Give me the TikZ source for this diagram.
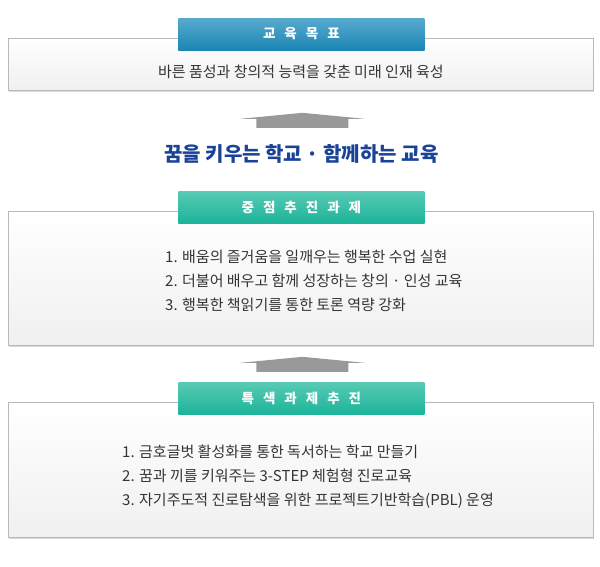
\documentclass[tikz,border=0pt]{standalone}
\usepackage{fontspec}
\setmainfont{Noto Sans CJK KR}
\usetikzlibrary{calc}
\usetikzlibrary{shadows}

\definecolor{goalblue}{RGB}{27,134,180}
\definecolor{goalbluelt}{RGB}{88,170,206}
\definecolor{taskgreen}{RGB}{27,180,154}
\definecolor{taskgreenlt}{RGB}{90,202,180}
\definecolor{liftgray}{RGB}{153,153,153}
\definecolor{panelline}{RGB}{185,185,185}
\definecolor{bodytext}{RGB}{52,52,52}
\definecolor{sloganblue}{RGB}{26,66,150}

\begin{document}
\begin{tikzpicture}[x=1pt, y=-1pt,
  panel/.style={rectangle,
                draw=panelline,
                line width=0.8pt,
                top color=white,
                bottom color=black!6,
                minimum width=585pt,
                anchor=north west,
                drop shadow={shadow xshift=1pt, shadow yshift=-1.5pt, opacity=.3}
  },
  banner/.style={rectangle,
                 minimum width=246pt,
                 minimum height=32pt,
                 text=white,
                 font={\fontsize{13.5pt}{15pt}\selectfont\bfseries\spaceskip=9pt\relax},
                 drop shadow={shadow xshift=0.8pt, shadow yshift=-1pt, opacity=.25}
  },
  bluebanner/.style={banner, top color=goalbluelt, bottom color=goalblue},
  greenbanner/.style={banner, top color=taskgreenlt, bottom color=taskgreen},
  listtext/.style={align=left,
                   anchor=west,
                   inner sep=0pt,
                   text=bodytext,
                   font={\fontsize{15pt}{24pt}\selectfont}
  },
  lift/.style={fill=liftgray}
]
\useasboundingbox (0,0) rectangle (600,566);

\node [panel, minimum height=52pt] (goal) at (8,38) {};
\node [bluebanner] (goalhead) at ($(goal.north)+(0.5,-4)$) {교 육 목 표};
\node [text=bodytext, font={\fontsize{15pt}{18pt}\selectfont}] (goaltext)
   at ($(goal.south)+(0,-19)$) {바른 품성과 창의적 능력을 갖춘 미래 인재 육성};

\coordinate (rise1) at ($(goal.south)+(1.5,37)$);
\node [text=sloganblue, font={\fontsize{20pt}{24pt}\selectfont\bfseries}] (slogan)
   at ($(goal.south)+(0.5,63)$) {꿈을 키우는 학교 ·  함께하는 교육};

\node [panel, minimum height=134pt] (focus) at (8,211) {};
\node [greenbanner] (focushead) at ($(focus.north)+(0.5,-4)$) {중 점 추 진 과 제};
\node [listtext] (focuslist) at (165,281) {
   1. 배움의 즐거움을 일깨우는 행복한 수업 실현\\
   2. 더불어 배우고 함께 성장하는 창의 · 인성 교육\\
   3. 행복한 책읽기를 통한 토론 역량 강화
};

\coordinate (rise2) at ($(focus.south)+(1.5,26)$);

\node [panel, minimum height=135pt] (special) at (8,402) {};
\node [greenbanner] (specialhead) at ($(special.north)+(0.5,-4)$) {특 색 과 제 추 진};
\node [listtext] (speciallist) at (122,477) {
   1. 금호글벗 활성화를 통한 독서하는 학교 만들기\\
   2. 꿈과 끼를 키워주는 3-STEP 체험형 진로교육\\
   3. 자기주도적 진로탐색을 위한 프로젝트기반학습(PBL) 운영
};

\foreach \base in {rise1, rise2}
   \fill [lift] (\base) ++(-46,0) -- ++(0,-9) -- ++(-16,0) -- ++(62,-6)
      -- ++(62,6) -- ++(-16,0) -- ++(0,9) -- cycle;

\end{tikzpicture}
\end{document}
